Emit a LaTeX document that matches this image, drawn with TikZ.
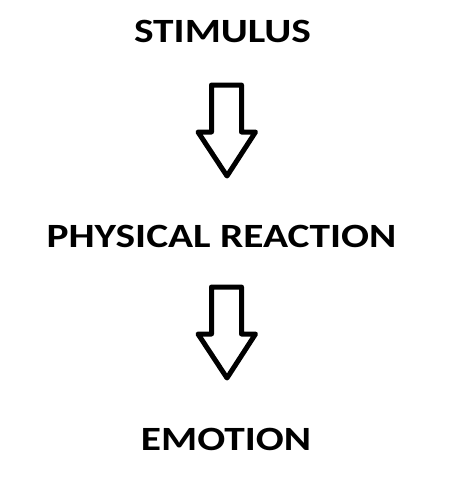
\documentclass[tikz,border=0pt]{standalone}
\usepackage{fontspec}
\setmainfont[FakeStretch=1.217]{Carlito}
\begin{document}
\begin{tikzpicture}[x=1pt,y=-1pt,
  lbl/.style={font=\fontsize{34}{40}\selectfont\bfseries, inner sep=0pt, anchor=base},
  bigarrow/.style={draw=black, line width=5pt, line join=round, fill=white}]
\useasboundingbox (0,0) rectangle (455,480);
\node[lbl] (s) at (222.5,42) {STIMULUS};
\node[lbl] (p) at (221.5,247) {PHYSICAL REACTION};
\node[lbl] (e) at (226,450) {EMOTION};
\foreach \dy/\nm in {0/a1,202/a2}{
  \draw[bigarrow] (211.5,85+\dy) -- (241.5,85+\dy) -- (241.5,132+\dy) -- (255.5,132+\dy)
    -- (227,176+\dy) -- (198,132+\dy) -- (211.5,132+\dy) -- cycle;
}
\end{tikzpicture}
\end{document}
